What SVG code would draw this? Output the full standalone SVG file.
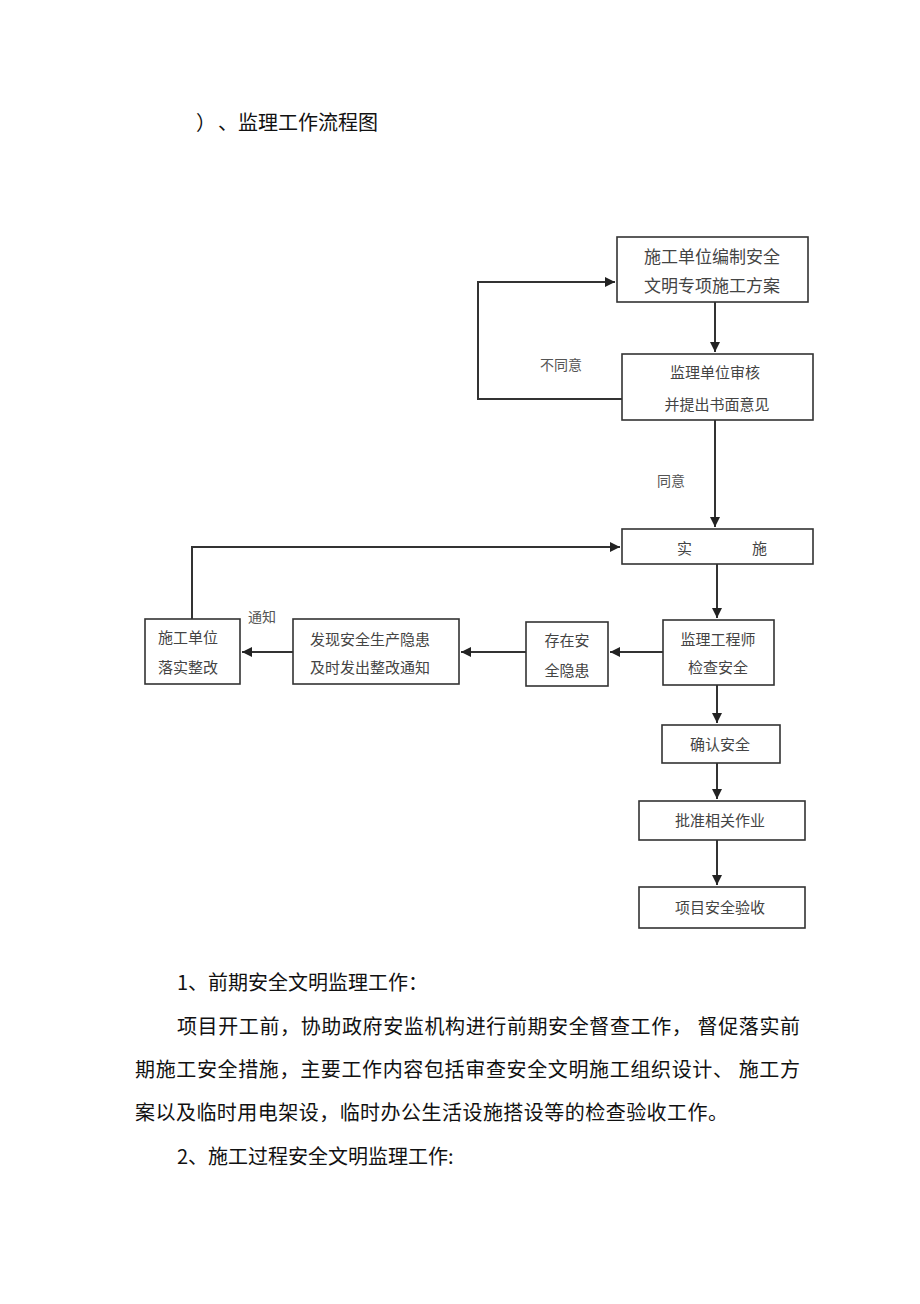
<svg xmlns="http://www.w3.org/2000/svg" width="920" height="1304" viewBox="0 0 920 1304">
<defs>
<marker id="ah" viewBox="0 0 10 10" refX="10" refY="5" markerWidth="5" markerHeight="5" orient="auto" markerUnits="strokeWidth">
<path d="M0,0 L10,5 L0,10 z" fill="#222"/>
</marker>
<style>
.box{fill:#fff;stroke:#333;stroke-width:1.6}
.bt{font-family:"Liberation Serif","Noto Sans CJK SC",serif;font-size:15px;fill:#444}
.bt17{font-family:"Liberation Serif","Noto Sans CJK SC",serif;font-size:17px;fill:#444}
.lbl{font-family:"Liberation Serif","Noto Sans CJK SC",serif;font-size:14px;fill:#555}
.ar{fill:none;stroke:#333;stroke-width:2;marker-end:url(#ah)}
.para{font-family:"Noto Sans CJK SC",sans-serif;font-size:20px;fill:#111}
</style>
</defs>
<rect width="920" height="1304" fill="#fff"/>
<text class="para" y="130"><tspan x="196">）</tspan><tspan x="218">、</tspan><tspan x="238">监理工作流程图</tspan></text>

<g id="connectors">
<path class="ar" d="M715,302 V352"/>
<path class="ar" d="M622,399 H478 V282 H615"/>
<path class="ar" d="M715,420 V527"/>
<path class="ar" d="M192,619 V547 H620"/>
<path class="ar" d="M717,564 V618"/>
<path class="ar" d="M663,652 H610"/>
<path class="ar" d="M526,652 H461"/>
<path class="ar" d="M293,652 H242"/>
<path class="ar" d="M717,685 V723"/>
<path class="ar" d="M717,763 V799"/>
<path class="ar" d="M717,840 V885"/>
<text class="lbl" x="540" y="370">不同意</text>
<text class="lbl" x="657" y="486">同意</text>
<text class="lbl" x="248" y="622">通知</text>
</g>

<g id="n1"><rect class="box" x="617" y="237" width="191" height="65"/>
<text class="bt17" x="712" y="263" text-anchor="middle">施工单位编制安全</text>
<text class="bt17" x="712" y="292" text-anchor="middle">文明专项施工方案</text></g>

<g id="n2"><rect class="box" x="622" y="354" width="191" height="66"/>
<text class="bt" x="715" y="378" text-anchor="middle">监理单位审核</text>
<text class="bt" x="717" y="410" text-anchor="middle">并提出书面意见</text></g>

<g id="n3"><rect class="box" x="622" y="529" width="191" height="35"/>
<text class="bt" x="677" y="554">实</text>
<text class="bt" x="752" y="554">施</text></g>

<g id="n4"><rect class="box" x="145" y="619" width="95" height="65"/>
<text class="bt" x="158" y="643">施工单位</text>
<text class="bt" x="158" y="673">落实整改</text></g>

<g id="n5"><rect class="box" x="293" y="619" width="166" height="65"/>
<text class="bt" x="310" y="645">发现安全生产隐患</text>
<text class="bt" x="310" y="673">及时发出整改通知</text></g>

<g id="n6"><rect class="box" x="526" y="622" width="82" height="64"/>
<text class="bt" x="567" y="646" text-anchor="middle">存在安</text>
<text class="bt" x="567" y="676" text-anchor="middle">全隐患</text></g>

<g id="n7"><rect class="box" x="663" y="620" width="111" height="65"/>
<text class="bt" x="718" y="645" text-anchor="middle">监理工程师</text>
<text class="bt" x="718" y="673" text-anchor="middle">检查安全</text></g>

<g id="n8"><rect class="box" x="662" y="725" width="118" height="38"/>
<text class="bt" x="720" y="750" text-anchor="middle">确认安全</text></g>

<g id="n9"><rect class="box" x="639" y="801" width="166" height="39"/>
<text class="bt" x="720" y="826" text-anchor="middle">批准相关作业</text></g>

<g id="n10"><rect class="box" x="639" y="887" width="166" height="41"/>
<text class="bt" x="720" y="913" text-anchor="middle">项目安全验收</text></g>

<text class="para" x="177" y="990">1、前期安全文明监理工作：</text>
<text class="para" x="177" y="1034" textLength="623">项目开工前，协助政府安监机构进行前期安全督查工作， 督促落实前</text>
<text class="para" x="135" y="1077" textLength="665">期施工安全措施，主要工作内容包括审查安全文明施工组织设计、 施工方</text>
<text class="para" x="135" y="1120" textLength="593">案以及临时用电架设，临时办公生活设施搭设等的检查验收工作。</text>
<text class="para" x="177" y="1164">2、施工过程安全文明监理工作:</text>
</svg>
